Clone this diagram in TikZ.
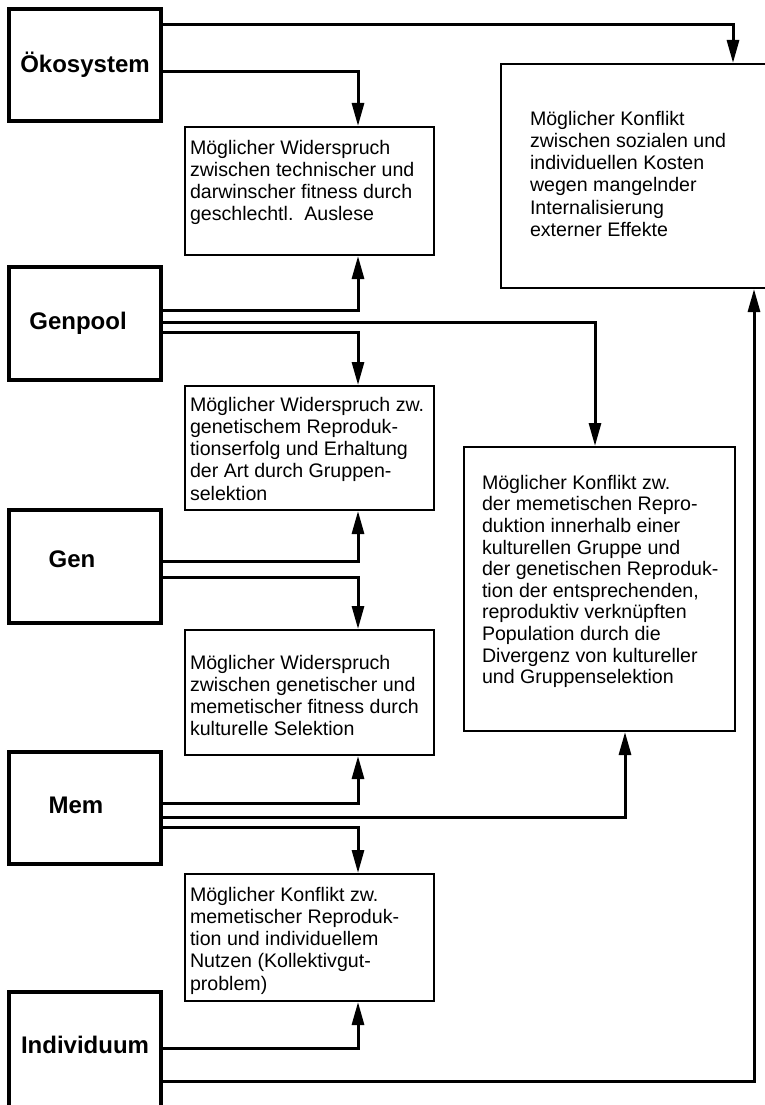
\documentclass[tikz,border=0pt]{standalone}
\usepackage{fontspec}
\setmainfont{Liberation Sans}
\usetikzlibrary{arrows.meta}
\newcommand{\btext}[5]{\parbox[c][#2][t]{#1}{\leftskip=#3\rightskip=0pt plus 1fil\parindent=0pt\parfillskip=0pt plus 1fil\vspace*{#4}#5}}
\tikzset{
  leftbox/.style={draw, line width=4pt, inner sep=0pt, minimum width=152pt, font=\fontsize{24pt}{28pt}\selectfont\bfseries},
  midbox/.style={draw, line width=2pt, inner sep=0pt, font=\fontsize{19.6pt}{22.2pt}\selectfont},
  conn/.style={line width=3pt, -{Triangle[length=23pt,width=12pt]}},
}
\begin{document}
\begin{tikzpicture}[x=1pt,y=-1pt]
\useasboundingbox (0,0) rectangle (765,1105);
\clip (0,0) rectangle (765,1105);
% left column
\node[leftbox, minimum height=112pt] (oeko) at (85,65) {\"Okosystem};
\node[leftbox, minimum height=113pt] (genpool) at (85,323.5) {Genpool\hspace*{14pt}};
\node[leftbox, minimum height=113pt] (gen) at (85,566.5) {\raisebox{7pt}[\height][\depth]{Gen}\hspace*{26pt}};
\node[leftbox, minimum height=112pt] (mem) at (85,808) {\raisebox{3pt}[\height][\depth]{Mem}\hspace*{18pt}};
\node[leftbox, minimum height=140pt] (indiv) at (85,1062) {\raisebox{17pt}[\height][\depth]{Individuum}};
% middle column
\node[midbox] (w1) at (309.5,191) {\btext{249pt}{128pt}{5pt}{13pt}{M\"oglicher Widerspruch\\ zwischen technischer und\\ darwinscher fitness durch\\ geschlechtl.\ \ Auslese}};
\node[midbox] (w2) at (309.5,448) {\btext{249pt}{124pt}{5pt}{11pt}{M\"oglicher Widerspruch zw.\\ genetischem Reproduk-\\ tionserfolg und Erhaltung\\ der Art durch Gruppen-\\ selektion}};
\node[midbox] (w3) at (309.5,692.5) {\btext{249pt}{125pt}{5pt}{25pt}{M\"oglicher Widerspruch\\ zwischen genetischer und\\ memetischer fitness durch\\ kulturelle Selektion}};
\node[midbox] (w4) at (309.5,937.5) {\btext{249pt}{127pt}{5pt}{13pt}{M\"oglicher Konflikt zw.\\ memetischer Reproduk-\\ tion und individuellem\\ Nutzen (Kollektivgut-\\ problem)}};
% right column
\node[midbox, font=\fontsize{19.6pt}{21.6pt}\selectfont] (k5) at (599.5,589) {\btext{271pt}{284pt}{18pt}{28pt}{M\"oglicher Konflikt zw.\\ der memetischen Repro-\\ duktion innerhalb einer\\ kulturellen Gruppe und\\ der genetischen Reproduk-\\ tion der entsprechenden,\\ reproduktiv verkn\"upften\\ Population durch die\\ Divergenz von kultureller\\ und Gruppenselektion}};
\node[midbox] (k6) at (650.5,176) {\btext{299pt}{224pt}{29pt}{47pt}{M\"oglicher Konflikt\\ zwischen sozialen und\\ individuellen Kosten\\ wegen mangelnder\\ Internalisierung\\ externer Effekte}};
% connectors
\draw[conn] (oeko.east |- 0,25) -| (k6.north -| 733,0);
\draw[conn] (oeko.east |- 0,72) -| (w1.north -| 358,0);
\draw[conn] (genpool.east |- 0,310) -| (w1.south -| 358,0);
\draw[conn] (genpool.east |- 0,322) -| (k5.north -| 595,0);
\draw[conn] (genpool.east |- 0,332) -| (w2.north -| 358,0);
\draw[conn] (gen.east |- 0,561) -| (w2.south -| 358,0);
\draw[conn] (gen.east |- 0,577) -| (w3.north -| 358,0);
\draw[conn] (mem.east |- 0,803) -| (w3.south -| 358,0);
\draw[conn] (mem.east |- 0,817) -| (k5.south -| 625,0);
\draw[conn] (mem.east |- 0,827) -| (w4.north -| 358,0);
\draw[conn] (indiv.east |- 0,1048) -| (w4.south -| 358,0);
\draw[conn] (indiv.east |- 0,1081) -| (k6.south -| 754,0);
\end{tikzpicture}
\end{document}
